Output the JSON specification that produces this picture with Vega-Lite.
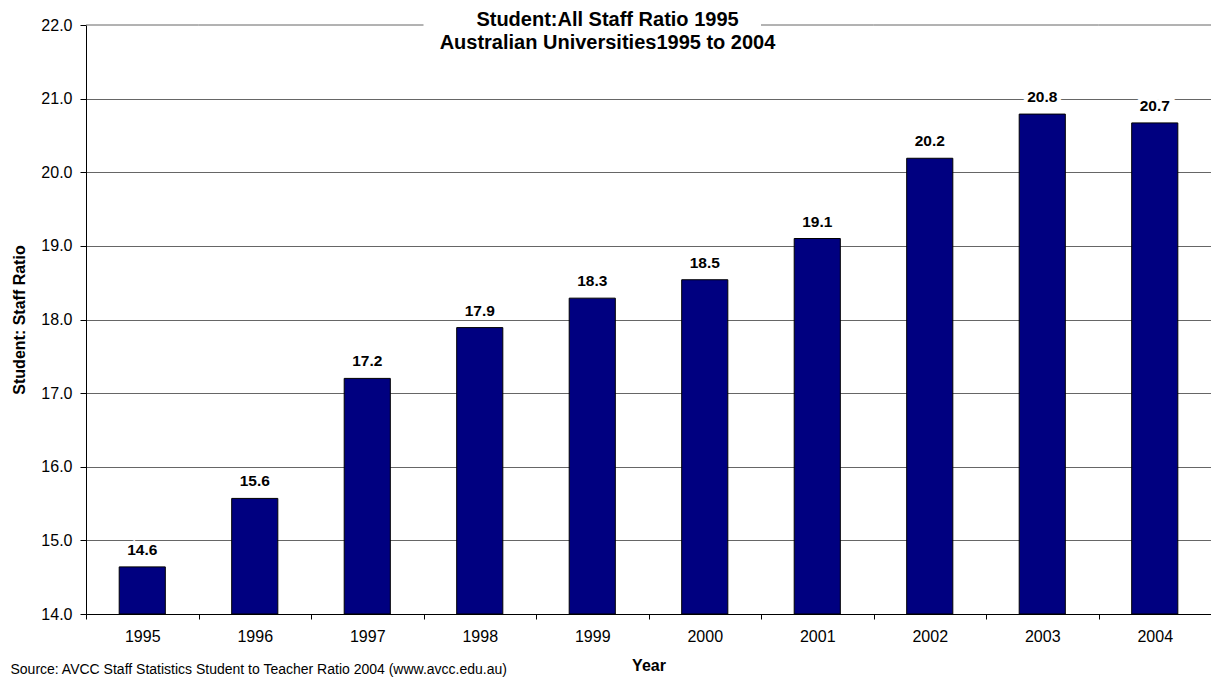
{
  "$schema": "https://vega.github.io/schema/vega-lite/v6.json",
  "width": 1125,
  "height": 589,
  "autosize": {"type": "none"},
  "padding": {"left": 86, "top": 25, "right": 0, "bottom": 63},
  "background": "white",
  "config": {
    "font": "Liberation Sans",
    "view": {"stroke": null},
    "axis": {"labelColor": "black", "titleColor": "black", "domainColor": "black", "tickColor": "black"}
  },
  "title": {
    "text": ["Student:All Staff Ratio 1995", "Australian Universities1995 to 2004"],
    "fontSize": 20,
    "fontWeight": "bold",
    "lineHeight": 23,
    "color": "black",
    "anchor": "middle",
    "frame": "group",
    "dx": -41,
    "offset": -36
  },
  "data": {
    "values": [
      {"Year": "1995", "Value": 14.64},
      {"Year": "1996", "Value": 15.57},
      {"Year": "1997", "Value": 17.2},
      {"Year": "1998", "Value": 17.89},
      {"Year": "1999", "Value": 18.29},
      {"Year": "2000", "Value": 18.54},
      {"Year": "2001", "Value": 19.1},
      {"Year": "2002", "Value": 20.19},
      {"Year": "2003", "Value": 20.79},
      {"Year": "2004", "Value": 20.67}
    ]
  },
  "encoding": {
    "y": {
      "field": "Value",
      "type": "quantitative",
      "title": "Student: Staff Ratio",
      "scale": {"domain": [14, 22], "zero": false, "nice": false},
      "axis": {
        "values": [14, 15, 16, 17, 18, 19, 20, 21, 22],
        "format": ".1f",
        "labelFontSize": 16,
        "labelPadding": 8,
        "tickSize": 6,
        "grid": true,
        "gridColor": "#666666",
        "gridOpacity": {"condition": {"test": "datum.value >= 22", "value": 0}, "value": 1},
        "titleFontSize": 16,
        "titleFontWeight": "bold",
        "titlePadding": 13
      }
    }
  },
  "layer": [
    {
      "transform": [{"filter": {"not": {"field": "Year", "oneOf": ["1998", "1999", "2000"]}}}],
      "mark": {"type": "rule", "color": "#666666", "strokeWidth": 1},
      "encoding": {
        "x": {"field": "Year", "type": "nominal", "bandPosition": 0, "axis": null, "scale": {"paddingInner": 0, "paddingOuter": 0}},
        "x2": {"field": "Year", "bandPosition": 1},
        "y": {"datum": 22, "type": "quantitative", "title": "Student: Staff Ratio"}
      }
    },
    {
      "mark": {"type": "bar", "color": "#000080", "stroke": "black", "strokeWidth": 1, "width": {"band": 0.41}},
      "encoding": {
        "x": {
          "field": "Year",
          "type": "nominal",
          "scale": {"paddingInner": 0, "paddingOuter": 0},
          "axis": {
            "title": "Year",
            "labelAngle": 0,
            "tickBand": "extent",
            "grid": false,
            "tickSize": 5,
            "labelFontSize": 16,
            "labelPadding": 9,
            "titleFontSize": 16,
            "titleFontWeight": "bold",
            "titlePadding": 13
          }
        },
        "y2": {"datum": 14}
      }
    },
    {
      "mark": {"type": "text", "fontSize": 15.5, "fontWeight": "bold", "fill": "white", "stroke": "white", "strokeWidth": 8, "baseline": "alphabetic", "dy": -12},
      "encoding": {
        "x": {
          "field": "Year",
          "type": "nominal",
          "axis": {
            "orient": "bottom",
            "title": "Source: AVCC Staff Statistics Student to Teacher Ratio 2004 (www.avcc.edu.au)",
            "labels": false,
            "ticks": false,
            "domain": false,
            "grid": false,
            "titleX": -76,
            "titleY": 59,
            "titleAlign": "left",
            "titleAnchor": "start",
            "titleAngle": 0,
            "titleBaseline": "alphabetic",
            "titleFontSize": 14,
            "titleFontWeight": "normal"
          }
        },
        "text": {"field": "Value", "type": "quantitative", "format": ".1f"}
      }
    },
    {
      "mark": {"type": "text", "fontSize": 15.5, "fontWeight": "bold", "color": "black", "baseline": "alphabetic", "dy": -12},
      "encoding": {
        "x": {"field": "Year", "type": "nominal", "axis": null},
        "text": {"field": "Value", "type": "quantitative", "format": ".1f"}
      }
    }
  ],
  "resolve": {"axis": {"x": "independent"}}
}
